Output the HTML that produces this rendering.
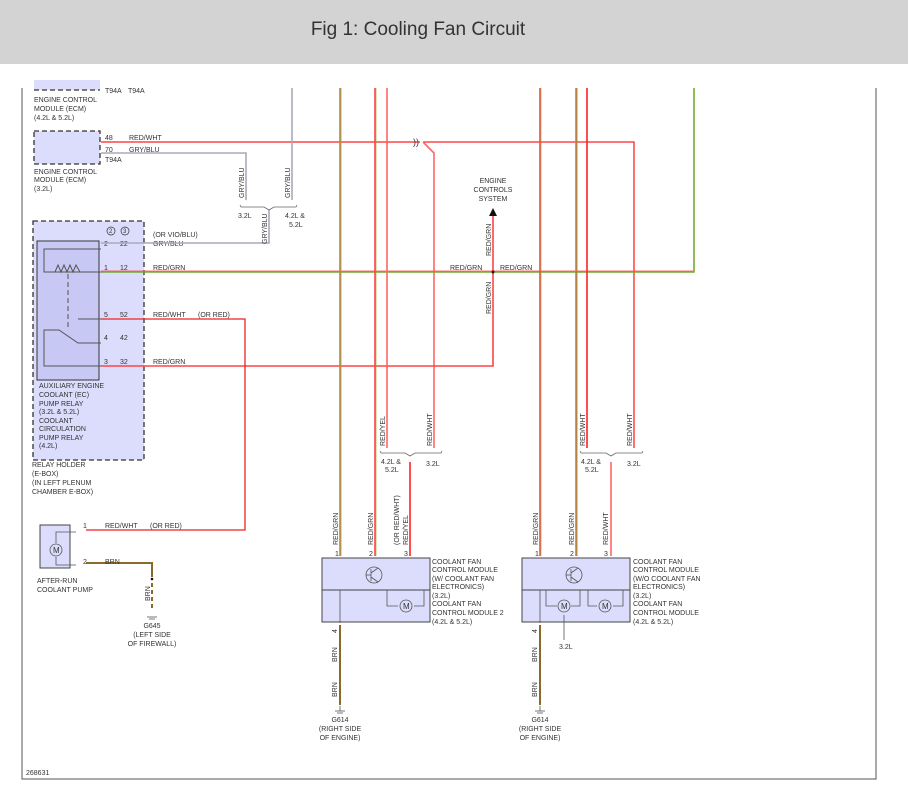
<!DOCTYPE html>
<html><head><meta charset="utf-8"><style>
html,body{margin:0;padding:0;background:#fff;width:908px;height:795px;overflow:hidden}
svg{display:block}
text{font-family:"Liberation Sans",sans-serif;font-size:7px;fill:#333}
.t{font-size:19px;fill:#333}
</style></head><body>
<svg width="908" height="795" viewBox="0 0 908 795" xmlns="http://www.w3.org/2000/svg">
<rect x="0" y="0" width="908" height="64" fill="#d3d3d3"/>
<text x="418" y="35" class="t" text-anchor="middle">Fig 1: Cooling Fan Circuit</text>
<!-- frame -->
<polyline points="22,88 22,779 876,779 876,88" fill="none" stroke="#555" stroke-width="1"/>
<!-- top ECM -->
<rect x="34" y="80" width="66" height="10" fill="#dcdcfc"/>
<line x1="34" y1="90" x2="100" y2="90" stroke="#333" stroke-dasharray="5,3" stroke-width="1.3"/>
<text x="105" y="93">T94A</text><text x="128" y="93">T94A</text>
<text x="34" y="102">ENGINE CONTROL</text><text x="34" y="111">MODULE (ECM)</text><text x="34" y="120">(4.2L &amp; 5.2L)</text>
<!-- ECM 3.2 -->
<rect x="34" y="131" width="66" height="33" fill="#dcdcfc" stroke="#333" stroke-dasharray="5,3" stroke-width="1.3"/>
<text x="105" y="140">48</text><text x="129" y="140">RED/WHT</text>
<text x="105" y="152">70</text><text x="129" y="152">GRY/BLU</text>
<text x="105" y="162">T94A</text>
<text x="34" y="174">ENGINE CONTROL</text><text x="34" y="182">MODULE (ECM)</text><text x="34" y="191">(3.2L)</text>
<!-- relay holder -->
<rect x="33" y="221" width="111" height="239" fill="#dcdcfc" stroke="#333" stroke-dasharray="5,3" stroke-width="1.3"/>
<rect x="37" y="241" width="62" height="139" fill="#c8c8f4" stroke="#333" stroke-width="1"/>
<circle cx="111" cy="231" r="4" fill="none" stroke="#333" stroke-width="0.7"/><text x="109" y="233" style="font-size:6px">2</text>
<circle cx="125" cy="231" r="4" fill="none" stroke="#333" stroke-width="0.7"/><text x="123" y="233" style="font-size:6px">3</text>
<g stroke="#555" fill="none" stroke-width="1">
<polyline points="101,249 44,249 44,272 101,272"/>
<polyline points="55,272 58,265 61,272 64,265 67,272 70,265 73,272 76,265 80,272"/>
<line x1="68" y1="274" x2="68" y2="330" stroke-dasharray="5,3"/>
<line x1="78" y1="319" x2="101" y2="319"/>
<polyline points="101,343 78,343 59,330 44,330 44,366 101,366"/>
</g>
<text x="104" y="246">2</text><text x="120" y="246">22</text><text x="153" y="246">GRY/BLU</text><text x="153" y="237">(OR VIO/BLU)</text>
<text x="104" y="270">1</text><text x="120" y="270">12</text><text x="153" y="270">RED/GRN</text>
<text x="104" y="317">5</text><text x="120" y="317">52</text><text x="153" y="317">RED/WHT</text><text x="198" y="317">(OR RED)</text>
<text x="104" y="340">4</text><text x="120" y="340">42</text>
<text x="104" y="364">3</text><text x="120" y="364">32</text><text x="153" y="364">RED/GRN</text>
<text x="39" y="388">AUXILIARY ENGINE</text><text x="39" y="397">COOLANT (EC)</text><text x="39" y="406">PUMP RELAY</text><text x="39" y="414">(3.2L &amp; 5.2L)</text><text x="39" y="423">COOLANT</text><text x="39" y="431">CIRCULATION</text><text x="39" y="440">PUMP RELAY</text><text x="39" y="448">(4.2L)</text>
<text x="32" y="467">RELAY HOLDER</text><text x="32" y="476">(E-BOX)</text><text x="32" y="485">(IN LEFT PLENUM</text><text x="32" y="494">CHAMBER E-BOX)</text>
<!-- wires -->
<g fill="none" stroke-width="1.6">
<polyline points="101,142 420,142" stroke="#f44"/>
<polyline points="423,142 634,142 634,448" stroke="#f22" stroke-width="1.3"/>
<polyline points="423,142 434,153 434,448" stroke="#f66"/>
<polyline points="101,153 246,153 246,200" stroke="#aab"/>
<line x1="292" y1="88" x2="292" y2="200" stroke="#aab"/>
<polyline points="269,210 269,243 101,243" stroke="#aab"/>
<polyline points="101,272 694,272 694,88" stroke="#7a3"/>
<polyline points="101,271 693,271" stroke="#f44" stroke-width="0.8"/>
<polyline points="101,366 493,366 493,216" stroke="#f44"/>
<polyline points="101,319 245,319 245,530 86,530" stroke="#e22" stroke-width="1.3"/>
<polyline points="86,563 152,563 152,577" stroke="#8a6a2a" stroke-width="2"/>
<line x1="152" y1="583" x2="152" y2="610" stroke="#8a6a2a" stroke-width="2" stroke-dasharray="4,3"/>
<line x1="340" y1="88" x2="340" y2="556" stroke="#7a3"/><line x1="341" y1="88" x2="341" y2="556" stroke="#f66" stroke-width="0.8"/>
<line x1="375" y1="88" x2="375" y2="556" stroke="#f44"/><line x1="376" y1="88" x2="376" y2="556" stroke="#7a3" stroke-width="0.6"/>
<line x1="387" y1="88" x2="387" y2="448" stroke="#f66"/>
<line x1="410" y1="462" x2="410" y2="556" stroke="#f22"/>
<line x1="540" y1="88" x2="540" y2="556" stroke="#f44"/><line x1="541" y1="88" x2="541" y2="556" stroke="#7a3" stroke-width="0.6"/>
<line x1="576" y1="88" x2="576" y2="556" stroke="#7a3"/><line x1="577" y1="88" x2="577" y2="556" stroke="#f44" stroke-width="0.8"/>
<line x1="587" y1="88" x2="587" y2="448" stroke="#f22"/>
<line x1="611" y1="462" x2="611" y2="556" stroke="#f66"/>
<line x1="340" y1="625" x2="340" y2="705" stroke="#8a6a2a" stroke-width="2"/>
<line x1="540" y1="625" x2="540" y2="705" stroke="#8a6a2a" stroke-width="2"/>
</g>
<text x="413" y="145" style="font-size:9px">))</text>
<!-- brackets -->
<g fill="none" stroke="#666" stroke-width="0.8">
<path d="M240,205 L241,207 L264,207 L269,210 L274,207 L296,207 L297,205"/>
<path d="M380,451 L381,453 L405,453 L410,456 L415,453 L441,453 L442,451"/>
<path d="M580,451 L581,453 L606,453 L611,456 L616,453 L642,453 L643,451"/>
</g>
<g>
<text transform="translate(244,198) rotate(-90)">GRY/BLU</text>
<text transform="translate(290,198) rotate(-90)">GRY/BLU</text>
<text transform="translate(267,244) rotate(-90)">GRY/BLU</text>
<text x="238" y="218">3.2L</text><text x="285" y="218">4.2L &amp;</text><text x="289" y="227">5.2L</text>
<text transform="translate(491,256) rotate(-90)">RED/GRN</text>
<text transform="translate(491,314) rotate(-90)">RED/GRN</text>
<text x="450" y="270">RED/GRN</text><text x="500" y="270">RED/GRN</text>
<circle cx="493" cy="272" r="1.5" fill="#111"/>
<polygon points="489,216 497,216 493,208" fill="#111"/>
<text x="493" y="183" text-anchor="middle">ENGINE</text><text x="493" y="192" text-anchor="middle">CONTROLS</text><text x="493" y="201" text-anchor="middle">SYSTEM</text>
<text transform="translate(385,446) rotate(-90)">RED/YEL</text>
<text transform="translate(432,446) rotate(-90)">RED/WHT</text>
<text transform="translate(585,446) rotate(-90)">RED/WHT</text>
<text transform="translate(632,446) rotate(-90)">RED/WHT</text>
<text x="381" y="464">4.2L &amp;</text><text x="385" y="472">5.2L</text><text x="426" y="466">3.2L</text>
<text x="581" y="464">4.2L &amp;</text><text x="585" y="472">5.2L</text><text x="627" y="466">3.2L</text>
<text transform="translate(338,545) rotate(-90)">RED/GRN</text>
<text transform="translate(373,545) rotate(-90)">RED/GRN</text>
<text transform="translate(399,545) rotate(-90)">(OR RED/WHT)</text>
<text transform="translate(408,545) rotate(-90)">RED/YEL</text>
<text transform="translate(538,545) rotate(-90)">RED/GRN</text>
<text transform="translate(574,545) rotate(-90)">RED/GRN</text>
<text transform="translate(608,545) rotate(-90)">RED/WHT</text>
<text x="335" y="556">1</text><text x="369" y="556">2</text><text x="404" y="556">3</text>
<text x="535" y="556">1</text><text x="570" y="556">2</text><text x="604" y="556">3</text>
</g>
<!-- modules -->
<g stroke="#444" stroke-width="1" fill="#dcdcfc">
<rect x="322" y="558" width="108" height="64"/><line x1="322" y1="590" x2="430" y2="590"/>
<rect x="522" y="558" width="108" height="64"/><line x1="522" y1="590" x2="630" y2="590"/>
</g>
<g stroke="#555" fill="none" stroke-width="0.8">
<circle cx="374" cy="575" r="8"/><line x1="371" y1="569" x2="371" y2="581"/><line x1="366" y1="575" x2="371" y2="575"/><line x1="371" y1="573" x2="378" y2="568"/><line x1="371" y1="577" x2="378" y2="582"/>
<circle cx="574" cy="575" r="8"/><line x1="571" y1="569" x2="571" y2="581"/><line x1="566" y1="575" x2="571" y2="575"/><line x1="571" y1="573" x2="578" y2="568"/><line x1="571" y1="577" x2="578" y2="582"/>
<line x1="340" y1="590" x2="340" y2="623"/>
<polyline points="387,590 387,606 398,606"/><polyline points="414,606 424,606 424,590"/>
<circle cx="406" cy="606" r="6" fill="#dcdcfc"/>
<line x1="540" y1="590" x2="540" y2="623"/>
<polyline points="546,590 546,606 557,606"/><polyline points="571,606 580,606 580,590"/>
<circle cx="564" cy="606" r="6" fill="#dcdcfc"/>
<polyline points="588,590 588,606 597,606"/><polyline points="613,606 623,606 623,590"/>
<circle cx="605" cy="606" r="6" fill="#dcdcfc"/>
<line x1="564" y1="615" x2="564" y2="640"/>
</g>
<text x="403" y="609" style="font-size:8px">M</text><text x="561" y="609" style="font-size:8px">M</text><text x="602" y="609" style="font-size:8px">M</text>
<text x="559" y="649">3.2L</text>
<g>
<text x="432" y="564">COOLANT FAN</text><text x="432" y="572">CONTROL MODULE</text><text x="432" y="581">(W/ COOLANT FAN</text><text x="432" y="589">ELECTRONICS)</text><text x="432" y="598">(3.2L)</text><text x="432" y="606">COOLANT FAN</text><text x="432" y="615">CONTROL MODULE 2</text><text x="432" y="624">(4.2L &amp; 5.2L)</text>
<text x="633" y="564">COOLANT FAN</text><text x="633" y="572">CONTROL MODULE</text><text x="633" y="581">(W/O COOLANT FAN</text><text x="633" y="589">ELECTRONICS)</text><text x="633" y="598">(3.2L)</text><text x="633" y="606">COOLANT FAN</text><text x="633" y="615">CONTROL MODULE</text><text x="633" y="624">(4.2L &amp; 5.2L)</text>
<text transform="translate(337,633) rotate(-90)">4</text><text transform="translate(537,633) rotate(-90)">4</text>
<text transform="translate(337,662) rotate(-90)">BRN</text><text transform="translate(337,697) rotate(-90)">BRN</text>
<text transform="translate(537,662) rotate(-90)">BRN</text><text transform="translate(537,697) rotate(-90)">BRN</text>
<text x="340" y="722" text-anchor="middle">G614</text><text x="340" y="731" text-anchor="middle">(RIGHT SIDE</text><text x="340" y="740" text-anchor="middle">OF ENGINE)</text>
<text x="540" y="722" text-anchor="middle">G614</text><text x="540" y="731" text-anchor="middle">(RIGHT SIDE</text><text x="540" y="740" text-anchor="middle">OF ENGINE)</text>
</g>
<g stroke="#555" stroke-width="0.8">
<line x1="335" y1="711" x2="345" y2="711"/><line x1="337" y1="713" x2="343" y2="713"/><line x1="340" y1="706" x2="340" y2="711"/>
<line x1="535" y1="711" x2="545" y2="711"/><line x1="537" y1="713" x2="543" y2="713"/><line x1="540" y1="706" x2="540" y2="711"/>
<line x1="147" y1="617" x2="157" y2="617"/><line x1="149" y1="619" x2="155" y2="619"/>
</g>
<!-- after-run pump -->
<rect x="40" y="525" width="30" height="43" fill="#dcdcfc" stroke="#444" stroke-width="1"/>
<g stroke="#555" fill="none" stroke-width="0.8"><polyline points="56,543 56,532 76,532"/><polyline points="56,557 56,565 76,565"/><circle cx="56" cy="550" r="6" fill="#dcdcfc"/></g>
<text x="53" y="553" style="font-size:8px">M</text>
<text x="83" y="528">1</text><text x="105" y="528">RED/WHT</text><text x="150" y="528">(OR RED)</text>
<text x="83" y="564">2</text><text x="105" y="564">BRN</text>
<text x="37" y="583">AFTER-RUN</text><text x="37" y="592">COOLANT PUMP</text>
<circle cx="152" cy="579" r="1.3" fill="#111"/>
<text transform="translate(150,601) rotate(-90)">BRN</text>
<text x="152" y="628" text-anchor="middle">G645</text><text x="152" y="637" text-anchor="middle">(LEFT SIDE</text><text x="152" y="646" text-anchor="middle">OF FIREWALL)</text>
<text x="26" y="775">268631</text>
</svg>
</body></html>
